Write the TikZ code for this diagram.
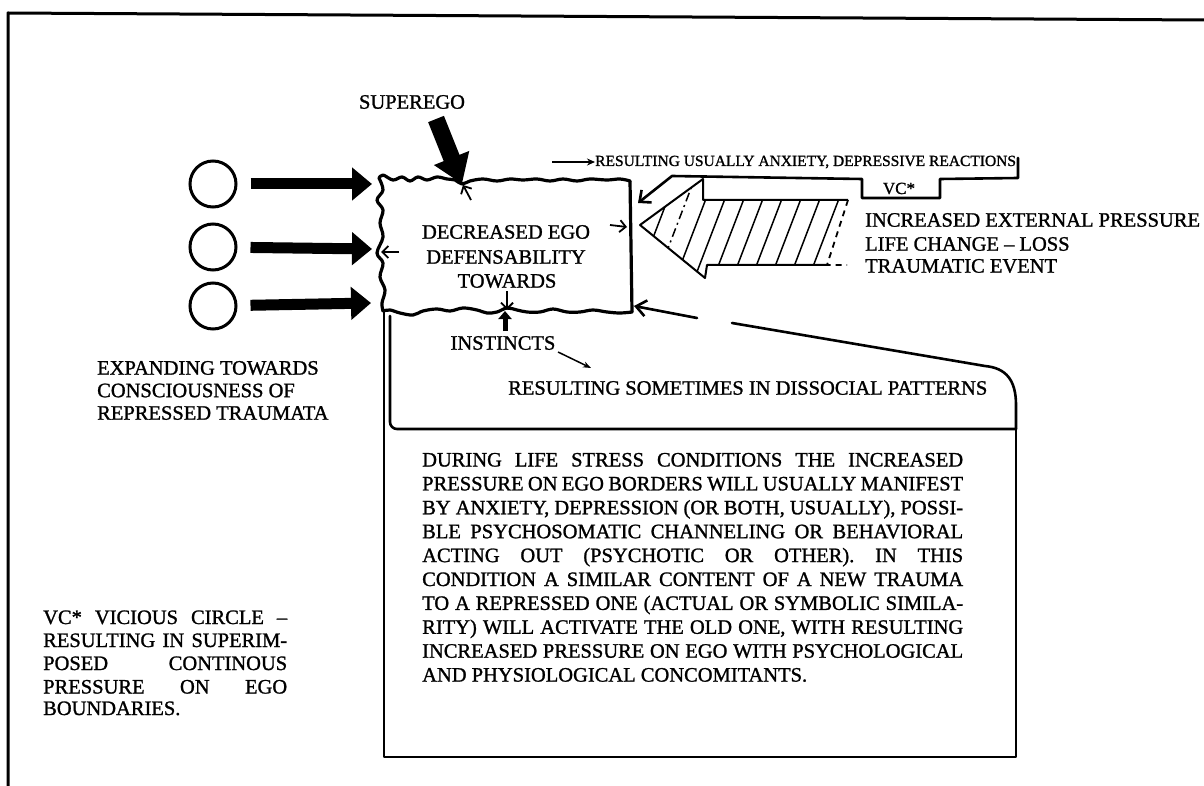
\documentclass[tikz,border=0pt]{standalone}
\usepackage{fontspec}
\setmainfont{Liberation Serif}[FakeBold=1.2]
\usetikzlibrary{arrows.meta,calc}

\tikzset{
  frameline/.style={line width=3pt, line cap=round, line join=round},
  edge/.style={line width=2.6pt, line cap=round, line join=round},
  egoline/.style={line width=3.2pt, line cap=round, line join=round},
  lbl/.style={inner sep=0pt, font=\fontsize{20.5}{24}\selectfont},
  smalllbl/.style={inner sep=0pt, font=\fontsize{15.5}{18}\selectfont},
  barb/.style={line width=1.8pt, -{Straight Barb[length=6pt,width=12pt]}},
  fatarrow/.style={line width=11pt, -{Triangle[length=20pt,width=32pt]}},
  trauma/.style={circle, draw, line width=3pt, minimum size=46pt, inner sep=0pt},
  hatch/.style={line width=1.5pt},
}

\newcommand{\blockline}[1]{\makebox[541pt][s]{#1}}
\newcommand{\noteline}[1]{\makebox[244pt][s]{#1}}

\begin{document}
\begin{tikzpicture}[x=1pt,y=-1pt]
  \useasboundingbox (0,0) rectangle (1204,786);

  % frame
  \draw[frameline] (8,786) -- (8,13) -- (1204,20);

  % ego box corners and contact points
  \coordinate (egoTL) at (379,178);
  \coordinate (egoTR) at (630,181);
  \coordinate (egoBR) at (632,312);
  \coordinate (egoBL) at (383,311);

  % wavy top border
  \draw[egoline] plot[smooth, tension=0.6] coordinates {
    (379,178) (383,175) (393,180) (402,177) (410,181) (418,177) (427,180)
    (437,177) (447,179) (455,180) (462,184) (470,181) (483,179) (497,181)
    (510,179) (523,180) (537,179) (550,181) (563,179) (577,181) (590,179)
    (607,180) (620,179) (630,181)};
  % wavy left border
  \draw[egoline] plot[smooth, tension=0.6] coordinates {
    (379,178) (383,190) (377,200) (383,210) (380,223) (383,237) (377,253)
    (383,263) (380,277) (385,290) (382,303) (383,311)};
  % right border
  \draw[egoline] (egoTR) -- (egoBR);
  % wavy bottom border
  \draw[egoline] plot[smooth, tension=0.6] coordinates {
    (383,311) (390,310) (400,313) (413,315) (423,311) (437,309) (450,311)
    (463,308) (477,310) (487,313) (497,312) (507,308) (517,310) (527,312)
    (540,312) (553,309) (567,312) (580,312) (593,310) (607,312) (620,313)
    (632,312)};

  % ego text
  \node[lbl] (ego1) at (506,232) {DECREASED EGO};
  \node[lbl] (ego2) at (506,257) {DEFENSABILITY};
  \node[lbl] (ego3) at (507,281) {TOWARDS};

  % counter-pressure barbs pushing out of the ego box
  \coordinate (pTopA) at (471,200); \coordinate (pTopB) at (463,185);
  \coordinate (pLeftA) at (399,252); \coordinate (pLeftB) at (381,252);
  \coordinate (pRightA) at (610,225); \coordinate (pRightB) at (627,227);
  \coordinate (pBotA) at (507,291); \coordinate (pBotB) at (507,310);
  \draw[barb] (pTopA) -- (pTopB);
  \draw[barb] (pLeftA) -- (pLeftB);
  \draw[barb] (pRightA) -- (pRightB);
  \draw[barb] (pBotA) -- (pBotB);

  % superego
  \node[lbl] (sup) at (412,102) {SUPEREGO};
  \coordinate (supTail) at (436,119);
  \coordinate (supTip) at (462,184);
  \draw[line width=17pt, -{Triangle[length=28pt,width=36pt]}] (supTail) -- (supTip);

  % repressed traumata
  \node[trauma] (c1) at (213,184) {};
  \node[trauma] (c2) at (213,247) {};
  \node[trauma] (c3) at (213,306) {};
  \coordinate (e1) at (372,184);
  \coordinate (e2) at (372,249);
  \coordinate (e3) at (371,303);
  \draw[fatarrow, shorten <=13pt] (c1) -- (e1);
  \draw[fatarrow, shorten <=13pt] (c2) -- (e2);
  \draw[fatarrow, shorten <=13pt] (c3) -- (e3);

  \node[lbl, anchor=west] (exp1) at (97,368) {EXPANDING TOWARDS};
  \node[lbl, anchor=west] (exp2) at (97,390.5) {CONSCIOUSNESS OF};
  \node[lbl, anchor=west] (exp3) at (97,413) {REPRESSED TRAUMATA};

  % vicious circle loop
  \node[smalllbl, anchor=base west] (ru) at (595,166) {RESULTING USUALLY ANXIETY, DEPRESSIVE REACTIONS};
  \coordinate (ruStart) at (552,162);
  \draw[line width=1.8pt, -{Stealth[length=8pt,width=7pt]}] (ruStart) -- (ru.west |- ruStart);
  \coordinate (vc0) at (1018,158);
  \coordinate (vc1) at (1018,178);
  \coordinate (vc2) at (940,179);
  \coordinate (vc3) at (940,198);
  \coordinate (vc4) at (862,198);
  \coordinate (vc5) at (862,179);
  \coordinate (vc6) at (672,176);
  \coordinate (vcTip) at (638,203);
  \draw[edge, -{Straight Barb[length=9pt,width=16pt]}]
    (vc0) -- (vc1) -- (vc2) -- (vc3) -- (vc4) -- (vc5) -- (vc6) -- (vcTip);
  \node[inner sep=0pt, font=\fontsize{17}{20}\selectfont, anchor=base] (vc) at (899,194) {VC*};

  % hatched external pressure arrow
  \coordinate (hA) at (640,225);
  \coordinate (hB) at (703,179);
  \coordinate (hC) at (703,200);
  \coordinate (hD) at (848,200);
  \coordinate (hE) at (827,265);
  \coordinate (hE2) at (847,265);
  \coordinate (hF) at (707,265);
  \coordinate (hG) at (705,278);
  \begin{scope}
    \clip (hA) -- (hB) -- (hC) -- (hD) -- (hE) -- (hF) -- (hG) -- cycle;
    \foreach \i in {0,2,3,4,5,6,7,8,9,11}
      \draw[hatch] ({633+19*\i},290) -- ++(46,-120);
    \foreach \i in {1,10}
      \draw[hatch, dash pattern=on 9pt off 4pt on 2pt off 4pt] ({633+19*\i},290) -- ++(46,-120);
  \end{scope}
  \draw[line width=2pt, line join=round] (hE) -- (hF) -- (hG) -- (hA) -- (hB) -- (hC) -- (hD);
  \draw[line width=1.8pt, dash pattern=on 6pt off 5pt] (hD) -- (hE) -- (hE2);

  \node[lbl, anchor=west] (ext1) at (865,220) {INCREASED EXTERNAL PRESSURE};
  \node[lbl, anchor=west] (ext2) at (865,244) {LIFE CHANGE – LOSS};
  \node[lbl, anchor=west] (ext3) at (865,266) {TRAUMATIC EVENT};

  % instincts
  \coordinate (insA) at (505,331);
  \draw[line width=5pt, -{Triangle[length=8pt,width=13pt]}] (insA) -- (egoBL -| insA);
  \node[lbl] (ins) at (503,343) {INSTINCTS};
  \coordinate (insP) at (558,352);
  \coordinate (insQ) at (591,368);
  \draw[line width=1.5pt, -{Stealth[length=8pt,width=6pt]}] (insP) -- (insQ);

  % dissocial callout
  \coordinate (ds0) at (390,316);
  \coordinate (ds1) at (390,429);
  \coordinate (ds2) at (1016,429);
  \coordinate (ds3) at (1016,405);
  \coordinate (ds4) at (985,366);
  \coordinate (ds5) at (732,323);
  \coordinate (ds6) at (697,318);
  \coordinate (dsTip) at (634,306);
  \draw[edge, rounded corners=7pt] (ds0) -- (ds1) -- (ds2);
  \draw[edge] (ds2) -- (ds3) .. controls (1016,380) and (1006,368) .. (ds4) -- (ds5);
  \draw[edge, -{Straight Barb[length=10pt,width=16pt]}] (ds6) -- (dsTip);
  \node[lbl, anchor=west] (dis) at (508,388) {RESULTING SOMETIMES IN DISSOCIAL PATTERNS};

  % explanatory box
  \coordinate (bx0) at (384,311);
  \coordinate (bx1) at (384,757);
  \coordinate (bx2) at (1016,757);
  \draw[edge] (bx0) -- (bx1) -- (bx2) -- (ds2);

  \begin{scope}[every node/.style={lbl, anchor=base west}]
    \node (t1)  at (422,466.5) {\blockline{DURING LIFE STRESS CONDITIONS THE INCREASED}};
    \node (t2)  at (422,490.4) {\blockline{PRESSURE ON EGO BORDERS WILL USUALLY MANIFEST}};
    \node (t3)  at (422,514.3) {\blockline{BY ANXIETY, DEPRESSION (OR BOTH, USUALLY), POSSI-}};
    \node (t4)  at (422,538.2) {\blockline{BLE PSYCHOSOMATIC CHANNELING OR BEHAVIORAL}};
    \node (t5)  at (422,562.1) {\blockline{ACTING OUT (PSYCHOTIC OR OTHER). IN THIS}};
    \node (t6)  at (422,586.0) {\blockline{CONDITION A SIMILAR CONTENT OF A NEW TRAUMA}};
    \node (t7)  at (422,609.9) {\blockline{TO A REPRESSED ONE (ACTUAL OR SYMBOLIC SIMILA-}};
    \node (t8)  at (422,633.8) {\blockline{RITY) WILL ACTIVATE THE OLD ONE, WITH RESULTING}};
    \node (t9)  at (422,657.7) {\blockline{INCREASED PRESSURE ON EGO WITH PSYCHOLOGICAL}};
    \node (t10) at (422,681.6) {AND PHYSIOLOGICAL CONCOMITANTS.};

    % legend
    \node (n1) at (43,624) {\noteline{VC* VICIOUS CIRCLE –}};
    \node (n2) at (43,647) {\noteline{RESULTING IN SUPERIM-}};
    \node (n3) at (43,670) {\noteline{POSED CONTINOUS}};
    \node (n4) at (43,693.5) {\noteline{PRESSURE ON EGO}};
    \node (n5) at (43,715) {BOUNDARIES.};
  \end{scope}
\end{tikzpicture}
\end{document}
